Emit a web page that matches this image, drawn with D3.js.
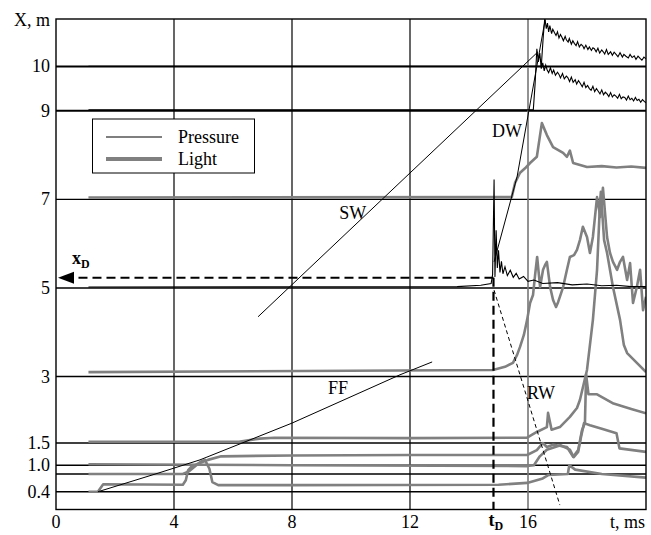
<!DOCTYPE html>
<html>
<head>
<meta charset="utf-8">
<script src="https://cdn.jsdelivr.net/npm/d3@7"></script>
<style>
  body { margin: 0; background: #fff; }
</style>
</head>
<body>
<svg id="chart" width="651" height="535" font-family="Liberation Serif, Times New Roman, DejaVu Serif, serif"></svg>
<script>
// ---- data (t in ms, X in m) ----
const gaugeLines = [0.4, 0.8, 1.0, 1.5, 3, 5, 7, 9, 10];
const yTickVals = [0.4, 1.0, 1.5, 3, 5, 7, 9, 10];
const yTickText = ["0.4", "1.0", "1.5", "3", "5", "7", "9", "10"];
const xTickVals = [0, 4, 8, 12, 16];
const xGridVals = [4, 8, 12];
const tD = 14.83, xD = 5.23;

// pressure gauges (black)
const press10 = [[1.1,10.0],[16.45,10.0],[16.52,10.7],[16.57,11.1],[16.62,10.85],[16.66,10.98],[16.7,10.78],
  [16.74,10.92],[16.8,10.74],[16.84,10.84],[16.9,10.76],[16.95,10.7],[17.0,10.78],[17.05,10.64],[17.1,10.72],
  [17.15,10.66],[17.2,10.58],[17.26,10.68],[17.3,10.6],[17.36,10.55],[17.4,10.63],[17.47,10.5],[17.52,10.58],
  [17.57,10.52],[17.63,10.47],[17.68,10.56],[17.74,10.44],[17.8,10.5],[17.86,10.46],[17.9,10.4],[17.96,10.48],
  [18.03,10.38],[18.08,10.44],[18.15,10.36],[18.2,10.42],[18.25,10.4],[18.31,10.33],[18.37,10.41],[18.43,10.3],
  [18.5,10.37],[18.55,10.33],[18.6,10.28],[18.66,10.38],[18.72,10.27],[18.8,10.33],[18.86,10.25],[18.92,10.32],
  [19.0,10.26],[19.05,10.22],[19.12,10.31],[19.2,10.21],[19.25,10.27],[19.32,10.23],[19.4,10.19],[19.46,10.27],
  [19.53,10.2],[19.6,10.24],[19.66,10.16],[19.73,10.23],[19.8,10.18],[19.86,10.14],[19.93,10.21],[20.0,10.17]];
const press9 = [[1.1,9.02],[16.18,9.02],[16.24,9.6],[16.3,10.4],[16.35,10.1],[16.4,10.3],[16.45,9.95],
  [16.5,10.08],[16.55,9.9],[16.6,10.03],[16.65,9.92],[16.7,9.86],[16.76,9.97],[16.82,9.84],[16.87,9.92],
  [16.93,9.8],[17.0,9.87],[17.05,9.82],[17.1,9.74],[17.17,9.84],[17.23,9.72],[17.3,9.78],[17.35,9.75],
  [17.41,9.66],[17.47,9.76],[17.53,9.64],[17.6,9.7],[17.65,9.6],[17.71,9.68],[17.77,9.62],[17.84,9.54],
  [17.9,9.64],[17.96,9.52],[18.02,9.57],[18.08,9.5],[18.14,9.46],[18.2,9.55],[18.26,9.43],[18.32,9.5],
  [18.38,9.44],[18.44,9.38],[18.5,9.47],[18.56,9.36],[18.62,9.42],[18.68,9.38],[18.74,9.32],[18.8,9.41],
  [18.86,9.31],[18.92,9.36],[18.98,9.33],[19.04,9.28],[19.1,9.37],[19.16,9.27],[19.22,9.31],[19.28,9.3],
  [19.34,9.24],[19.4,9.33],[19.46,9.25],[19.52,9.28],[19.58,9.22],[19.64,9.3],[19.7,9.23],[19.76,9.26],
  [19.82,9.19],[19.88,9.25],[19.94,9.21],[20.0,9.18]];
const press5 = [[1.1,5.02],[13.6,5.03],[14.4,5.06],[14.75,5.1],[14.8,5.3],[14.85,7.45],[14.88,5.25],
  [14.92,6.3],[14.96,5.45],[15.0,5.85],[15.05,5.35],[15.1,5.6],[15.15,5.32],[15.22,5.48],[15.3,5.28],
  [15.4,5.4],[15.5,5.24],[15.6,5.33],[15.7,5.2],[15.85,5.26],[16.0,5.15],[16.2,5.18],[16.5,5.1],
  [17.0,5.12],[17.5,5.07],[18.0,5.09],[18.5,5.05],[19.0,5.06],[19.5,5.03],[20.0,5.03]];

// light gauges (grey)
const light7 = [[1.1,7.04],[15.45,7.05],[15.56,7.37],[15.73,7.6],[15.9,7.7],[16.07,7.82],[16.3,7.96],
  [16.4,8.41],[16.47,8.72],[16.64,8.45],[16.85,8.18],[17.19,8.05],[17.32,7.96],[17.42,8.1],[17.53,7.82],
  [18.0,7.73],[18.5,7.75],[19.0,7.72],[19.5,7.74],[20.0,7.71]];
const light3 = [[1.1,3.1],[14.81,3.15],[15.22,3.22],[15.49,3.31],[15.63,3.49],[15.73,3.67],[15.86,3.94],
  [15.97,4.28],[16.07,4.66],[16.17,4.84],[16.24,5.29],[16.31,5.7],[16.41,5.02],[16.51,5.41],[16.58,5.52],
  [16.64,5.59],[16.75,5.02],[16.85,4.73],[16.95,4.57],[17.02,4.68],[17.08,4.8],[17.19,5.02],[17.32,5.41],
  [17.42,5.7],[17.56,5.74],[17.66,5.86],[17.76,6.08],[17.86,6.38],[18.0,6.15],[18.1,5.79],[18.2,6.15],
  [18.34,7.05],[18.45,6.6],[18.54,7.26],[18.68,6.15],[18.78,5.79],[18.88,5.59],[19.02,5.41],[19.12,5.59],
  [19.22,5.7],[19.36,5.18],[19.46,5.56],[19.56,4.66],[19.69,5.02],[19.8,5.41],[19.9,4.5],[20.0,4.8]];
const light15 = [[1.1,1.53],[6.2,1.53],[6.9,1.6],[7.4,1.62],[12,1.61],[15.97,1.62],[16.3,1.75],
  [16.64,1.86],[16.68,2.18],[16.8,1.8],[17.08,1.86],[17.42,2.09],[17.66,2.29],[17.76,2.47],[18.0,3.15],
  [18.2,4.28],[18.34,5.4],[18.44,6.92],[18.47,7.17],[18.58,6.08],[18.68,5.79],[18.88,5.02],[19.12,4.28],
  [19.25,3.71],[19.36,3.53],[19.69,3.31],[20.0,3.1]];
const light10 = [[1.1,1.02],[8,1.0],[15.97,0.98],[16.2,1.0],[16.4,1.2],[16.64,1.35],[17.1,1.45],
  [17.42,1.35],[17.55,1.18],[17.7,1.3],[17.8,1.65],[17.9,1.95],[18.1,1.9],[18.5,1.82],[19.0,1.72],
  [19.1,1.38],[20.0,1.3]];
const light04 = [[1.1,0.4],[1.42,0.4],[1.6,0.57],[4.3,0.56],[4.4,0.66],[4.48,0.89],[4.6,0.97],
  [4.88,1.05],[5.15,1.12],[5.6,1.2],[8,1.22],[12,1.23],[15.97,1.23],[16.3,1.34],[16.5,1.5],[16.64,1.41],
  [16.85,1.46],[17.32,1.41],[17.53,1.19],[17.7,1.34],[17.83,1.79],[17.93,1.95],[17.97,3.05],[18.05,2.6],
  [18.34,2.6],[18.9,2.39],[19.5,2.27],[20.0,2.17]];
const light08 = [[1.1,0.8],[4.3,0.8],[4.5,0.86],[4.9,1.08],[5.05,1.12],[5.2,0.92],[5.3,0.62],
  [5.5,0.55],[8,0.55],[15.0,0.56],[15.97,0.6],[16.5,0.7],[16.7,0.78],[17.35,0.8],[17.4,1.0],
  [17.6,0.9],[18.5,0.8],[20.0,0.72]];

// wave trajectories
const lineFF = [[1.42,0.4],[3.46,0.82],[4.88,1.12],[8,1.95],[11.66,3.04],[12.75,3.33]];
const lineSW = [[6.85,4.35],[16.34,10.33]];
const lineDW = [[14.85,5.59],[15.63,7.51],[16.58,11.05]];
const lineRW = [[14.85,4.95],[17.08,0.1]];

const waveLabels = [
  { text: "SW", t: 9.6, X: 6.55 },
  { text: "DW", t: 14.78, X: 8.4 },
  { text: "FF", t: 9.22, X: 2.6 },
  { text: "RW", t: 15.97, X: 2.5 }
];

// ---- layout ----
const svg = d3.select("#chart");
const x = d3.scaleLinear().domain([0, 20]).range([56, 646]);
const y = d3.scaleLinear().domain([0, 11.07]).range([509.5, 19]);
const line = d3.line().x(d => x(d[0])).y(d => y(d[1]));

svg.append("clipPath").attr("id", "plotClip")
  .append("rect")
  .attr("x", x(0)).attr("y", y(11.07))
  .attr("width", x(20) - x(0)).attr("height", y(0) - y(11.07));

// grid
svg.selectAll(".hline").data(gaugeLines).enter().append("line")
  .attr("x1", x(0)).attr("x2", x(20))
  .attr("y1", d => y(d)).attr("y2", d => y(d))
  .attr("stroke", "#000").attr("stroke-width", d => d >= 9 ? 2 : 1.4);

svg.selectAll(".vline").data(xGridVals).enter().append("line")
  .attr("x1", d => x(d)).attr("x2", d => x(d))
  .attr("y1", y(0)).attr("y2", y(11.07))
  .attr("stroke", "#000").attr("stroke-width", 1.2);

svg.append("line")
  .attr("x1", x(16)).attr("x2", x(16))
  .attr("y1", y(0)).attr("y2", y(11.07))
  .attr("stroke", "#777").attr("stroke-width", 1.6);

const plot = svg.append("g").attr("clip-path", "url(#plotClip)");

// light traces
[light7, light3, light15, light10, light04, light08].forEach(s => {
  plot.append("path").datum(s)
    .attr("d", line)
    .attr("fill", "none")
    .attr("stroke", "#808080")
    .attr("stroke-width", 2.6)
    .attr("stroke-linejoin", "round");
});

// pressure traces
[press10, press9, press5].forEach(s => {
  plot.append("path").datum(s)
    .attr("d", line)
    .attr("fill", "none")
    .attr("stroke", "#000")
    .attr("stroke-width", 1.1);
});

// wave lines
[lineFF, lineSW, lineDW].forEach(s => {
  plot.append("path").datum(s)
    .attr("d", line)
    .attr("fill", "none")
    .attr("stroke", "#000")
    .attr("stroke-width", 1);
});
plot.append("path").datum(lineRW)
  .attr("d", line)
  .attr("fill", "none")
  .attr("stroke", "#000")
  .attr("stroke-width", 1)
  .attr("stroke-dasharray", "4,3");

// tD / xD dashed guides
svg.append("line")
  .attr("x1", x(tD)).attr("x2", x(0) + 16)
  .attr("y1", y(xD)).attr("y2", y(xD))
  .attr("stroke", "#000").attr("stroke-width", 2.2)
  .attr("stroke-dasharray", "9,5");
svg.append("line")
  .attr("x1", x(tD)).attr("x2", x(tD))
  .attr("y1", y(xD)).attr("y2", y(0))
  .attr("stroke", "#000").attr("stroke-width", 2.2)
  .attr("stroke-dasharray", "9,5");
svg.append("path")
  .attr("d", `M${x(0) + 2},${y(xD)} L${x(0) + 18},${y(xD) - 6} L${x(0) + 18},${y(xD) + 6} Z`)
  .attr("fill", "#000");

// frame
svg.append("rect")
  .attr("x", x(0)).attr("y", y(11.07))
  .attr("width", x(20) - x(0)).attr("height", y(0) - y(11.07))
  .attr("fill", "none").attr("stroke", "#000").attr("stroke-width", 1.4);

// axis labels
svg.selectAll(".ytick").data(yTickVals).enter().append("text")
  .attr("x", 50).attr("y", d => y(d) + 6)
  .attr("text-anchor", "end")
  .attr("font-size", 18)
  .text((d, i) => yTickText[i]);

svg.selectAll(".xtick").data(xTickVals).enter().append("text")
  .attr("x", d => x(d)).attr("y", 528)
  .attr("text-anchor", "middle")
  .attr("font-size", 18)
  .text(d => d);

svg.append("text").attr("x", 50).attr("y", 26).attr("text-anchor", "end")
  .attr("font-size", 18).text("X, m");
svg.append("text").attr("x", 645).attr("y", 528).attr("text-anchor", "end")
  .attr("font-size", 18).text("t, ms");

const tLab = svg.append("text").attr("x", x(tD) - 5).attr("y", 526)
  .attr("font-size", 18).attr("font-weight", "bold");
tLab.append("tspan").text("t");
tLab.append("tspan").attr("dy", 4).attr("font-size", 12).text("D");

const xLab = svg.append("text").attr("x", 72).attr("y", 264)
  .attr("font-size", 18).attr("font-weight", "bold");
xLab.append("tspan").text("x");
xLab.append("tspan").attr("dy", 4).attr("font-size", 12).text("D");

svg.selectAll(".wlab").data(waveLabels).enter().append("text")
  .attr("x", d => x(d.t)).attr("y", d => y(d.X))
  .attr("font-size", 18)
  .text(d => d.text);

// legend
const lg = svg.append("g");
lg.append("rect").attr("x", 92.5).attr("y", 119).attr("width", 162).attr("height", 54)
  .attr("fill", "#fff").attr("stroke", "#000").attr("stroke-width", 1);
lg.append("line").attr("x1", 106).attr("x2", 162).attr("y1", 137).attr("y2", 137)
  .attr("stroke", "#000").attr("stroke-width", 1.1);
lg.append("line").attr("x1", 106).attr("x2", 162).attr("y1", 159).attr("y2", 159)
  .attr("stroke", "#808080").attr("stroke-width", 4);
lg.append("text").attr("x", 178).attr("y", 143).attr("font-size", 18).text("Pressure");
lg.append("text").attr("x", 178).attr("y", 165).attr("font-size", 18).text("Light");
</script>
</body>
</html>
